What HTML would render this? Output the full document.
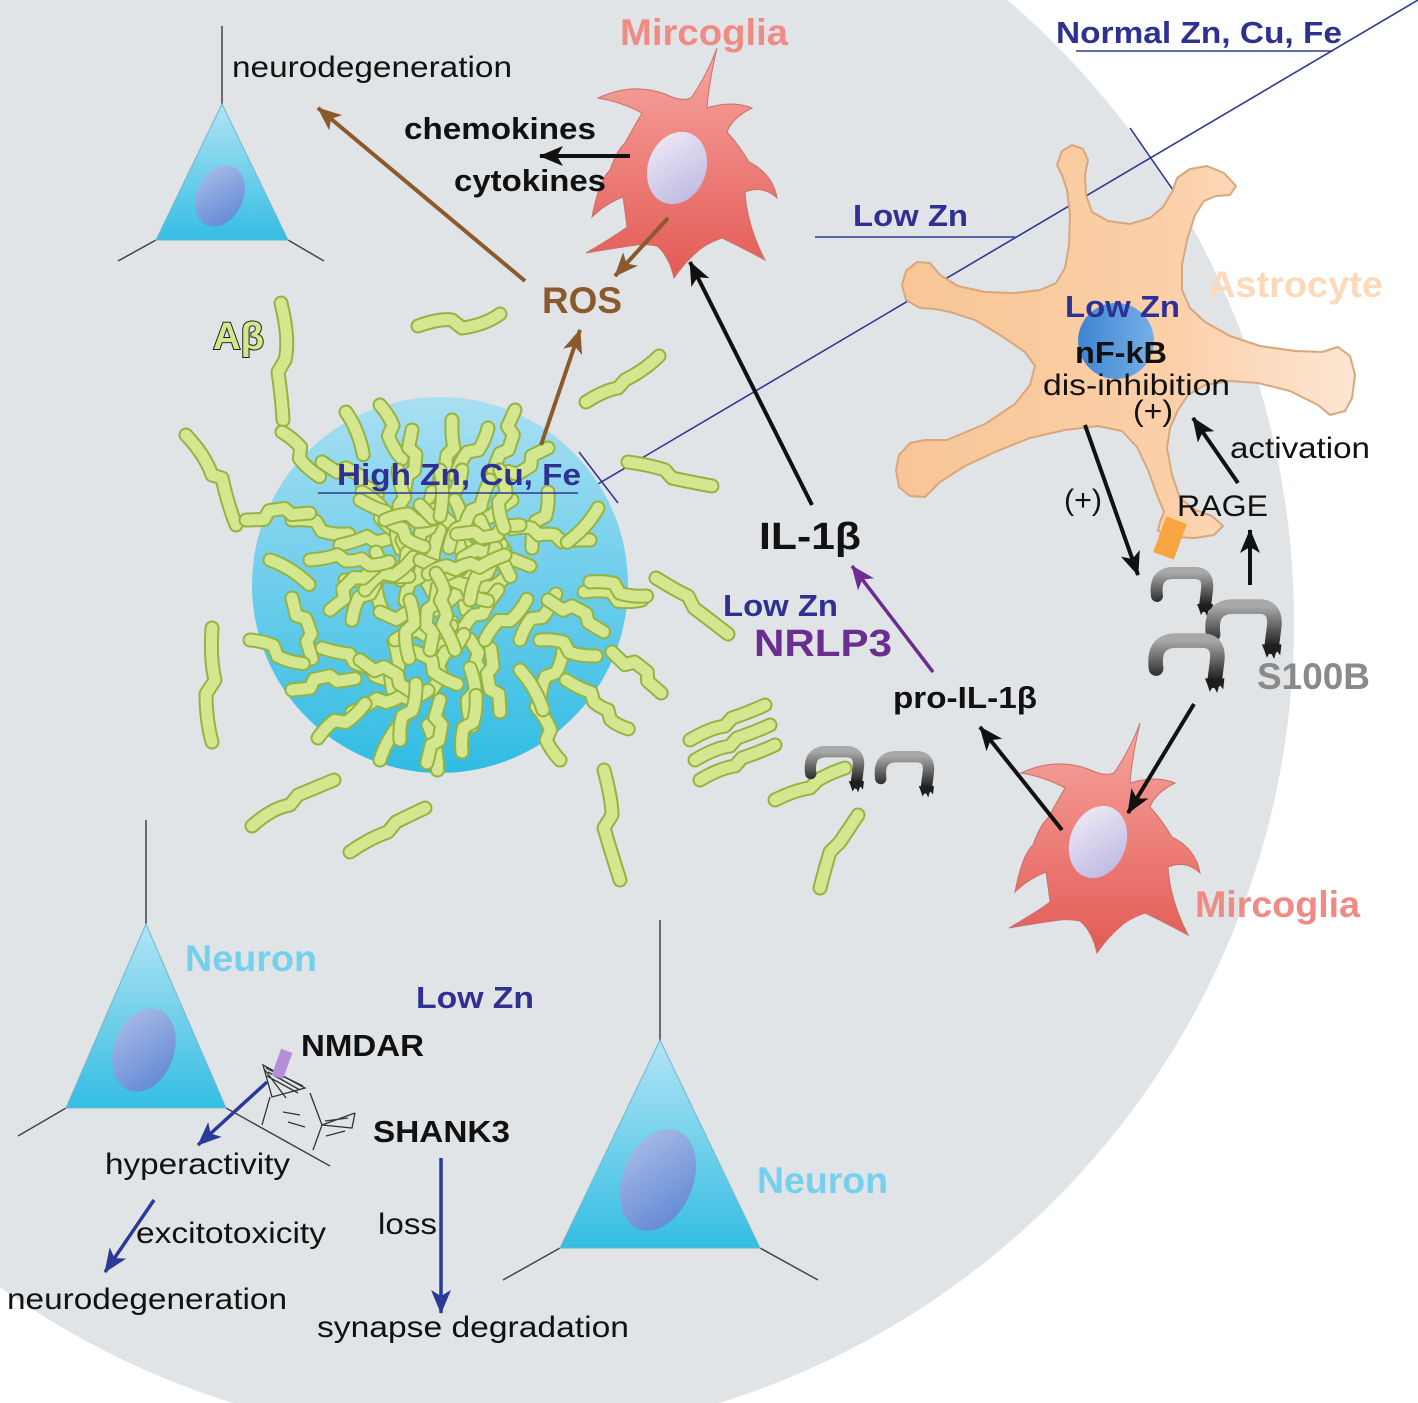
<!DOCTYPE html>
<html><head><meta charset="utf-8"><style>
html,body{margin:0;padding:0;background:#fff}
svg{display:block}
text{font-family:"Liberation Sans",Arial,sans-serif}
.r{font-weight:400;fill:#111;font-size:30px}
.b{font-weight:700;fill:#111;font-size:31px}
.bl{font-weight:700;fill:#2e3192;font-size:31px}
.big{font-weight:700;font-size:37px}
</style></head><body>
<svg width="1418" height="1403" viewBox="0 0 1418 1403" xmlns="http://www.w3.org/2000/svg">
<defs>
<linearGradient id="gTri" x1="0" y1="0" x2="0" y2="1"><stop offset="0" stop-color="#b2e4f5"/><stop offset="1" stop-color="#34bde3"/></linearGradient>
<linearGradient id="gNuc" x1="0" y1="0" x2="1" y2="1"><stop offset="0" stop-color="#aebfe9"/><stop offset="1" stop-color="#5a84d2"/></linearGradient>
<linearGradient id="gPlq" x1="0" y1="0" x2="0" y2="1"><stop offset="0" stop-color="#aadff3"/><stop offset="1" stop-color="#30bce3"/></linearGradient>
<linearGradient id="gMg" x1="0" y1="0" x2="0" y2="1"><stop offset="0" stop-color="#f7a69f"/><stop offset="1" stop-color="#e35a55"/></linearGradient>
<linearGradient id="gMn" x1="0" y1="0" x2="1" y2="1"><stop offset="0" stop-color="#f2eef7"/><stop offset="1" stop-color="#b9b3e0"/></linearGradient>
<linearGradient id="gAst" x1="0" y1="0" x2="1" y2="0"><stop offset="0" stop-color="#f8c595"/><stop offset="0.6" stop-color="#fbd0a9"/><stop offset="1" stop-color="#fde6d3"/></linearGradient>
<linearGradient id="gAn" x1="0" y1="0" x2="1" y2="0"><stop offset="0" stop-color="#3f84d2"/><stop offset="1" stop-color="#76afe6"/></linearGradient>
<linearGradient id="gS" x1="0" y1="0" x2="0" y2="1"><stop offset="0" stop-color="#a8a8a8"/><stop offset="1" stop-color="#1c1c1c"/></linearGradient>
<marker id="mK" viewBox="-26 -12 28 24" refX="0" refY="0" markerWidth="28" markerHeight="24" markerUnits="userSpaceOnUse" orient="auto"><path d="M1,0 L-23,-10 L-17,0 L-23,10 Z" fill="#111"/></marker>
<marker id="mR" viewBox="-26 -12 28 24" refX="0" refY="0" markerWidth="28" markerHeight="24" markerUnits="userSpaceOnUse" orient="auto"><path d="M1,0 L-23,-10 L-17,0 L-23,10 Z" fill="#8a5a2c"/></marker>
<marker id="mP" viewBox="-26 -12 28 24" refX="0" refY="0" markerWidth="28" markerHeight="24" markerUnits="userSpaceOnUse" orient="auto"><path d="M1,0 L-23,-10 L-17,0 L-23,10 Z" fill="#6b2d90"/></marker>
<marker id="mB" viewBox="-26 -12 28 24" refX="0" refY="0" markerWidth="28" markerHeight="24" markerUnits="userSpaceOnUse" orient="auto"><path d="M1,0 L-23,-10 L-17,0 L-23,10 Z" fill="#2b3a98"/></marker>
<g id="fa" fill="none" stroke-linecap="round" stroke-linejoin="round"><path d="M0,0 Q12,-3 24,-2 L31,7 Q44,9 58,6" stroke="#94b343" stroke-width="15"/><path d="M0,0 Q12,-3 24,-2 L31,7 Q44,9 58,6" stroke="#d4e78f" stroke-width="11"/></g>
<g id="fb" fill="none" stroke-linecap="round" stroke-linejoin="round"><path d="M0,0 L18,2 L24,-6 L40,-6 L46,1 L64,2" stroke="#94b343" stroke-width="15"/><path d="M0,0 L18,2 L24,-6 L40,-6 L46,1 L64,2" stroke="#d4e78f" stroke-width="11"/></g>
<g id="fc" fill="none" stroke-linecap="round" stroke-linejoin="round"><path d="M0,0 Q22,-5 46,0" stroke="#94b343" stroke-width="15"/><path d="M0,0 Q22,-5 46,0" stroke="#d4e78f" stroke-width="11"/></g>
<g id="fd" fill="none" stroke-linecap="round" stroke-linejoin="round"><path d="M0,0 Q16,3 28,2 L34,10 Q44,13 50,12 L56,20 Q64,23 76,22" stroke="#94b343" stroke-width="15"/><path d="M0,0 Q16,3 28,2 L34,10 Q44,13 50,12 L56,20 Q64,23 76,22" stroke="#d4e78f" stroke-width="11"/></g>
<path id="mg" d="M-79,-72 Q-45,-88 -12,-76 Q4,-68 14,-72 Q30,-95 40,-122 Q32,-88 30,-62 Q55,-70 75,-62 Q55,-52 50,-38 Q62,-25 72,-8 Q96,4 100,28 Q86,15 68,22 Q70,55 88,90 Q62,76 45,68 Q28,74 20,82 Q8,92 -3,108 Q-8,86 -20,76 Q-30,74 -40,75 Q-62,78 -91,83 Q-62,66 -50,57 Q-52,40 -54,27 Q-72,34 -85,47 Q-78,10 -67,0 Q-60,-20 -52,-27 Q-42,-45 -35,-57 Q-55,-68 -79,-72 Z" fill="url(#gMg)" stroke="#c8716b" stroke-width="1"/>
<g id="hk">
<path d="M5,30 Q2,8 20,7 L44,7 Q57,8 55,24 L53,40" fill="none" stroke="url(#gS)" stroke-width="12" stroke-linecap="round" stroke-linejoin="round"/>
<path d="M45,38 L61,38 L60,47 L57,43 L55,50 L52,44 L49,49 L47,43 Z" fill="#1e1e1e"/>
</g>
</defs>

<rect width="1418" height="1403" fill="#fff"/>
<circle cx="476" cy="622" r="818" fill="#e1e4e6"/>

<!-- diagonal and underline lines -->
<g stroke="#2e3a94" stroke-width="1.6" fill="none">
<line x1="520" y1="530" x2="1418" y2="0"/>
<line x1="1076" y1="51" x2="1333" y2="51"/>
<line x1="815" y1="237" x2="1015" y2="237"/>
<line x1="1130" y1="128" x2="1175" y2="193"/>
</g>

<!-- top-left neuron -->
<g stroke="#444" stroke-width="1.5">
<line x1="222" y1="26" x2="222" y2="104"/>
<line x1="156" y1="240" x2="118" y2="261"/>
<line x1="288" y1="240" x2="324" y2="261"/>
</g>
<polygon points="222,104 156,240 288,240" fill="url(#gTri)" stroke="#6fb6cf" stroke-width="1"/>
<ellipse cx="220" cy="196" rx="23" ry="32" transform="rotate(25 220 196)" fill="url(#gNuc)"/>

<!-- plaque -->
<circle cx="440" cy="585" r="188" fill="url(#gPlq)"/>

<!-- outside fibrils -->
<g fill="none" stroke-linecap="round" stroke-linejoin="round">
<g stroke="#94b343" stroke-width="15">
<path d="M281,303 Q290,340 285,360 L278,372 Q282,400 283,420"/>
<path d="M186,435 Q205,455 212,475 L222,478 Q228,505 236,525"/>
<path d="M418,326 Q440,318 452,320 L462,328 Q485,325 500,314"/>
<path d="M586,402 Q605,390 618,388 L625,380 Q645,370 659,356"/>
<path d="M628,462 Q650,465 665,470 L672,478 Q690,482 712,486"/>
<path d="M656,578 Q675,590 688,596 L694,608 Q710,620 728,634"/>
<path d="M604,770 Q612,800 612,815 L604,828 Q612,855 620,880"/>
<path d="M252,826 Q272,808 290,805 L298,795 Q315,788 334,780"/>
<path d="M350,852 Q370,838 388,832 L396,822 Q410,815 425,808"/>
<path d="M212,628 Q210,660 215,680 L206,694 Q206,720 212,742"/>
<path d="M690,740 Q710,728 725,726 L732,718 Q750,712 765,705"/>
<path d="M695,760 Q715,748 730,746 L737,738 Q755,732 770,725"/>
<path d="M700,780 Q720,768 735,766 L742,758 Q760,752 775,745"/>
<path d="M775,800 Q795,790 810,788 L818,780 Q832,772 845,768"/>
<path d="M820,888 Q826,865 830,852 L840,842 Q848,830 858,815"/>
</g>
<g stroke="#d4e78f" stroke-width="11">
<path d="M281,303 Q290,340 285,360 L278,372 Q282,400 283,420"/>
<path d="M186,435 Q205,455 212,475 L222,478 Q228,505 236,525"/>
<path d="M418,326 Q440,318 452,320 L462,328 Q485,325 500,314"/>
<path d="M586,402 Q605,390 618,388 L625,380 Q645,370 659,356"/>
<path d="M628,462 Q650,465 665,470 L672,478 Q690,482 712,486"/>
<path d="M656,578 Q675,590 688,596 L694,608 Q710,620 728,634"/>
<path d="M604,770 Q612,800 612,815 L604,828 Q612,855 620,880"/>
<path d="M252,826 Q272,808 290,805 L298,795 Q315,788 334,780"/>
<path d="M350,852 Q370,838 388,832 L396,822 Q410,815 425,808"/>
<path d="M212,628 Q210,660 215,680 L206,694 Q206,720 212,742"/>
<path d="M690,740 Q710,728 725,726 L732,718 Q750,712 765,705"/>
<path d="M695,760 Q715,748 730,746 L737,738 Q755,732 770,725"/>
<path d="M700,780 Q720,768 735,766 L742,758 Q760,752 775,745"/>
<path d="M775,800 Q795,790 810,788 L818,780 Q832,772 845,768"/>
<path d="M820,888 Q826,865 830,852 L840,842 Q848,830 858,815"/>
</g>
</g>

<!-- plaque fibrils -->
<use href="#fa" transform="translate(380,405) rotate(62)"/>
<use href="#fb" transform="translate(412,430) rotate(95)"/>
<use href="#fd" transform="translate(452,420) rotate(82)"/>
<use href="#fa" transform="translate(488,428) rotate(118)"/>
<use href="#fb" transform="translate(322,462) rotate(28)"/>
<use href="#fa" transform="translate(292,520) rotate(8)"/>
<use href="#fb" transform="translate(548,448) rotate(148)"/>
<use href="#fa" transform="translate(548,492) rotate(100)"/>
<use href="#fd" transform="translate(590,540) rotate(172)"/>
<use href="#fc" transform="translate(598,508) rotate(132)"/>
<use href="#fd" transform="translate(340,545) rotate(-22)"/>
<use href="#fa" transform="translate(362,492) rotate(42)"/>
<use href="#fd" transform="translate(398,470) rotate(72)"/>
<use href="#fb" transform="translate(432,492) rotate(96)"/>
<use href="#fa" transform="translate(462,470) rotate(112)"/>
<use href="#fd" transform="translate(512,500) rotate(138)"/>
<use href="#fb" transform="translate(530,566) rotate(195)"/>
<use href="#fa" transform="translate(376,552) rotate(78)"/>
<use href="#fb" transform="translate(402,540) rotate(58)"/>
<use href="#fd" transform="translate(440,530) rotate(100)"/>
<use href="#fa" transform="translate(470,552) rotate(88)"/>
<use href="#fd" transform="translate(436,610) rotate(-42)"/>
<use href="#fb" transform="translate(380,612) rotate(18)"/>
<use href="#fa" transform="translate(352,620) rotate(-68)"/>
<use href="#fd" transform="translate(322,648) rotate(8)"/>
<use href="#fb" transform="translate(292,598) rotate(70)"/>
<use href="#fc" transform="translate(270,560) rotate(32)"/>
<use href="#fb" transform="translate(452,622) rotate(58)"/>
<use href="#fd" transform="translate(498,590) rotate(118)"/>
<use href="#fa" transform="translate(520,640) rotate(-58)"/>
<use href="#fb" transform="translate(548,600) rotate(28)"/>
<use href="#fa" transform="translate(642,600) rotate(-178)"/>
<use href="#fa" transform="translate(470,668) rotate(82)"/>
<use href="#fb" transform="translate(432,690) rotate(-62)"/>
<use href="#fa" transform="translate(396,700) rotate(-98)"/>
<use href="#fd" transform="translate(352,712) rotate(-32)"/>
<use href="#fb" transform="translate(500,712) rotate(-100)"/>
<use href="#fa" transform="translate(540,700) rotate(-72)"/>
<use href="#fd" transform="translate(566,680) rotate(22)"/>
<use href="#fa" transform="translate(318,738) rotate(-42)"/>
<use href="#fc" transform="translate(428,725) rotate(78)"/>
<use href="#fa" transform="translate(462,752) rotate(-82)"/>
<use href="#fb" transform="translate(292,690) rotate(-12)"/>
<use href="#fa" transform="translate(250,640) rotate(18)"/>
<use href="#fa" transform="translate(590,582) rotate(8)"/>
<use href="#fb" transform="translate(612,652) rotate(38)"/>
<use href="#fa" transform="translate(282,432) rotate(44)"/>
<use href="#fc" transform="translate(346,412) rotate(68)"/>
<use href="#fb" transform="translate(515,410) rotate(108)"/>
<use href="#fb" transform="translate(246,520) rotate(-8)"/>
<use href="#fa" transform="translate(410,650) rotate(30)"/>
<use href="#fd" transform="translate(400,580) rotate(-80)"/>
<use href="#fb" transform="translate(480,520) rotate(60)"/>
<use href="#fa" transform="translate(560,760) rotate(-120)"/>
<use href="#fc" transform="translate(380,760) rotate(-60)"/>
<!-- extra dense core -->
<use href="#fd" transform="translate(360,500) rotate(20)"/>
<use href="#fa" transform="translate(385,520) rotate(-10)"/>
<use href="#fb" transform="translate(420,505) rotate(40)"/>
<use href="#fa" transform="translate(455,500) rotate(75)"/>
<use href="#fd" transform="translate(490,480) rotate(105)"/>
<use href="#fb" transform="translate(345,580) rotate(-5)"/>
<use href="#fa" transform="translate(365,590) rotate(-40)"/>
<use href="#fd" transform="translate(420,560) rotate(15)"/>
<use href="#fb" transform="translate(445,575) rotate(-30)"/>
<use href="#fa" transform="translate(470,600) rotate(-70)"/>
<use href="#fd" transform="translate(505,555) rotate(150)"/>
<use href="#fb" transform="translate(520,525) rotate(170)"/>
<use href="#fa" transform="translate(395,640) rotate(-20)"/>
<use href="#fb" transform="translate(430,650) rotate(-85)"/>
<use href="#fd" transform="translate(455,650) rotate(-120)"/>
<use href="#fa" transform="translate(485,640) rotate(-50)"/>
<use href="#fb" transform="translate(360,660) rotate(30)"/>
<use href="#fa" transform="translate(410,600) rotate(85)"/>
<use href="#fc" transform="translate(440,470) rotate(90)"/>
<use href="#fa" transform="translate(500,470) rotate(80)"/>
<use href="#fb" transform="translate(330,610) rotate(-45)"/>
<use href="#fd" transform="translate(310,560) rotate(-15)"/>
<use href="#fa" transform="translate(540,640) rotate(10)"/>
<use href="#fc" transform="translate(520,670) rotate(60)"/>
<use href="#fa" transform="translate(400,740) rotate(-80)"/>
<use href="#fb" transform="translate(440,700) rotate(100)"/>

<!-- High Zn underline & tick -->
<g stroke="#2e3a94" stroke-width="1.6">
<line x1="318" y1="493" x2="578" y2="493"/>
<line x1="579" y1="452" x2="618" y2="503"/>
</g>

<!-- astrocyte -->
<polygon points="1057,165 1062,151 1072,145 1083,149 1088,160 1085,175 1086,195 1092,212 1108,221 1130,224 1150,218 1163,207 1172,192 1177,178 1190,169 1207,166 1224,173 1236,186 1230,195 1216,196 1204,201 1195,215 1187,240 1182,265 1182,290 1190,308 1205,322 1230,336 1260,346 1295,351 1322,352 1338,347 1350,356 1355,375 1352,398 1345,411 1330,415 1318,405 1290,391 1258,383 1230,381 1205,385 1188,395 1178,410 1170,428 1167,448 1172,475 1180,498 1195,510 1212,516 1223,526 1214,535 1195,538 1172,537 1158,531 1160,522 1164,512 1157,495 1148,470 1137,447 1122,431 1098,426 1065,430 1030,438 995,452 965,466 940,482 925,497 910,496 899,487 896,470 899,455 910,443 925,440 947,440 985,424 1015,404 1030,385 1035,366 1025,352 1000,335 975,320 950,312 935,309 920,308 906,300 902,285 906,271 917,262 930,263 940,275 958,286 985,292 1015,293 1040,290 1056,283 1065,268 1069,245 1070,215 1067,190 1062,175" fill="url(#gAst)" stroke="#d8a77c" stroke-width="2" stroke-linejoin="round"/>
<circle cx="1116" cy="341" r="38" fill="url(#gAn)"/>
<rect x="-11" y="-19" width="22" height="38" transform="translate(1170,538) rotate(20)" fill="#f7a540"/>

<!-- S100B -->
<use href="#hk" transform="translate(1152,566)"/>
<use href="#hk" transform="translate(1207,598) scale(1.22)"/>
<use href="#hk" transform="translate(1150,632) scale(1.22)"/>
<use href="#hk" transform="translate(806,745) scale(0.95)"/>
<use href="#hk" transform="translate(876,750) scale(0.95)"/>

<!-- microglia -->
<use href="#mg" transform="translate(677,170)"/>
<ellipse cx="677" cy="168" rx="29" ry="37" transform="rotate(20 677 168)" fill="url(#gMn)"/>
<use href="#mg" transform="translate(1100,845)"/>
<ellipse cx="1098" cy="842" rx="28" ry="37" transform="rotate(20 1098 842)" fill="url(#gMn)"/>

<!-- bottom-left neuron -->
<g stroke="#444" stroke-width="1.5">
<line x1="146" y1="820" x2="146" y2="924"/>
<line x1="66" y1="1108" x2="18" y2="1136"/>
<line x1="226" y1="1108" x2="330" y2="1166"/>
</g>
<polygon points="146,924 66,1108 226,1108" fill="url(#gTri)" stroke="#6fb6cf" stroke-width="1"/>
<ellipse cx="144" cy="1050" rx="30" ry="43" transform="rotate(20 144 1050)" fill="url(#gNuc)"/>

<!-- synapse sketch -->
<g stroke="#333" stroke-width="1.3" fill="none">
<path d="M263,1065 L272,1097 L305,1088 Z"/>
<path d="M266,1068 L303,1086 M268,1072 L300,1090 M267,1076 L298,1093 M265,1070 L286,1098"/>
<path d="M270,1097 L262,1125"/>
<path d="M283,1112 L300,1115 M288,1122 L305,1127"/>
<path d="M310,1093 L322,1125 L313,1150"/>
<path d="M322,1125 L355,1113 M322,1125 L352,1128 L355,1113 M325,1121 L348,1118"/>
<path d="M326,1136 L345,1131"/>
</g>
<rect x="-6" y="-14" width="12" height="28" transform="translate(282,1064) rotate(20)" fill="#b48fd6"/>

<!-- bottom-center neuron -->
<g stroke="#444" stroke-width="1.5">
<line x1="660" y1="920" x2="660" y2="1040"/>
<line x1="560" y1="1248" x2="503" y2="1280"/>
<line x1="760" y1="1248" x2="818" y2="1280"/>
</g>
<polygon points="660,1040 560,1248 760,1248" fill="url(#gTri)" stroke="#6fb6cf" stroke-width="1"/>
<ellipse cx="658" cy="1180" rx="35" ry="53" transform="rotate(22 658 1180)" fill="url(#gNuc)"/>

<!-- arrows -->
<g fill="none" stroke-width="4">
<line x1="630" y1="156" x2="540" y2="156" stroke="#111" marker-end="url(#mK)"/>
<line x1="668" y1="218" x2="615" y2="276" stroke="#8a5a2c" marker-end="url(#mR)"/>
<line x1="525" y1="281" x2="318" y2="108" stroke="#8a5a2c" marker-end="url(#mR)"/>
<line x1="541" y1="445" x2="580" y2="330" stroke="#8a5a2c" marker-end="url(#mR)"/>
<line x1="812" y1="505" x2="690" y2="262" stroke="#111" marker-end="url(#mK)"/>
<line x1="933" y1="672" x2="852" y2="566" stroke="#6b2d90" stroke-width="3.5" marker-end="url(#mP)"/>
<line x1="1062" y1="830" x2="980" y2="727" stroke="#111" marker-end="url(#mK)"/>
<line x1="1194" y1="704" x2="1128" y2="813" stroke="#111" marker-end="url(#mK)"/>
<line x1="1085" y1="425" x2="1138" y2="575" stroke="#111" marker-end="url(#mK)"/>
<line x1="1238" y1="483" x2="1193" y2="418" stroke="#111" marker-end="url(#mK)"/>
<line x1="1250" y1="585" x2="1250" y2="530" stroke="#111" marker-end="url(#mK)"/>
<line x1="267" y1="1082" x2="198" y2="1145" stroke="#2b3a98" stroke-width="3.5" marker-end="url(#mB)"/>
<line x1="154" y1="1200" x2="105" y2="1272" stroke="#2b3a98" stroke-width="3.5" marker-end="url(#mB)"/>
<line x1="441" y1="1158" x2="441" y2="1313" stroke="#2b3a98" stroke-width="3.5" marker-end="url(#mB)"/>
</g>

<!-- text -->
<text class="r" x="232" y="77" textLength="280" lengthAdjust="spacingAndGlyphs">neurodegeneration</text>
<text class="big" x="620" y="45" fill="#f08a84" textLength="168" lengthAdjust="spacingAndGlyphs">Mircoglia</text>
<text class="b" x="404" y="139" textLength="192" lengthAdjust="spacingAndGlyphs">chemokines</text>
<text class="b" x="454" y="191" textLength="152" lengthAdjust="spacingAndGlyphs">cytokines</text>
<text class="big" x="542" y="313" fill="#8a5a2c" textLength="80" lengthAdjust="spacingAndGlyphs">ROS</text>
<text x="213" y="349" font-size="38" font-weight="700" fill="#d3e88a" stroke="#222" stroke-width="2" paint-order="stroke" textLength="51" lengthAdjust="spacingAndGlyphs">Aβ</text>
<text class="bl" x="337" y="485" textLength="244" lengthAdjust="spacingAndGlyphs">High Zn, Cu, Fe</text>
<text class="bl" x="1056" y="43" textLength="286" lengthAdjust="spacingAndGlyphs">Normal Zn, Cu, Fe</text>
<text class="bl" x="853" y="226" textLength="115" lengthAdjust="spacingAndGlyphs">Low Zn</text>
<text class="big" x="1208" y="297" fill="#fcd9ba" textLength="175" lengthAdjust="spacingAndGlyphs">Astrocyte</text>
<text class="bl" x="1065" y="317" textLength="115" lengthAdjust="spacingAndGlyphs">Low Zn</text>
<text class="b" x="1075" y="363" textLength="92" lengthAdjust="spacingAndGlyphs">nF-kB</text>
<text class="r" x="1043" y="395" textLength="187" lengthAdjust="spacingAndGlyphs">dis-inhibition</text>
<text class="r" x="1133" y="421" textLength="40" lengthAdjust="spacingAndGlyphs">(+)</text>
<text class="r" x="1230" y="458" textLength="140" lengthAdjust="spacingAndGlyphs">activation</text>
<text class="r" x="1177" y="516" textLength="91" lengthAdjust="spacingAndGlyphs">RAGE</text>
<text class="r" x="1064" y="510" textLength="38" lengthAdjust="spacingAndGlyphs">(+)</text>
<text class="big" x="1257" y="689" fill="#8a8a8a" textLength="113" lengthAdjust="spacingAndGlyphs">S100B</text>
<text class="big" x="1195" y="917" fill="#f08a84" textLength="165" lengthAdjust="spacingAndGlyphs">Mircoglia</text>
<text x="759" y="549" font-size="38" font-weight="700" fill="#111" textLength="102" lengthAdjust="spacingAndGlyphs">IL-1β</text>
<text class="bl" x="723" y="616" textLength="115" lengthAdjust="spacingAndGlyphs">Low Zn</text>
<text x="754" y="656" font-size="38" font-weight="700" fill="#6b2d90" textLength="138" lengthAdjust="spacingAndGlyphs">NRLP3</text>
<text class="b" x="893" y="708" textLength="144" lengthAdjust="spacingAndGlyphs">pro-IL-1β</text>
<text class="big" x="185" y="971" fill="#74d0ec" textLength="132" lengthAdjust="spacingAndGlyphs">Neuron</text>
<text class="bl" x="416" y="1008" textLength="118" lengthAdjust="spacingAndGlyphs">Low Zn</text>
<text class="b" x="301" y="1056" textLength="123" lengthAdjust="spacingAndGlyphs">NMDAR</text>
<text class="b" x="373" y="1142" textLength="137" lengthAdjust="spacingAndGlyphs">SHANK3</text>
<text class="r" x="105" y="1174" textLength="185" lengthAdjust="spacingAndGlyphs">hyperactivity</text>
<text class="r" x="136" y="1243" textLength="190" lengthAdjust="spacingAndGlyphs">excitotoxicity</text>
<text class="r" x="378" y="1234" textLength="59" lengthAdjust="spacingAndGlyphs">loss</text>
<text class="r" x="7" y="1309" textLength="280" lengthAdjust="spacingAndGlyphs">neurodegeneration</text>
<text class="r" x="317" y="1337" textLength="312" lengthAdjust="spacingAndGlyphs">synapse degradation</text>
<text class="big" x="757" y="1193" fill="#74d0ec" textLength="131" lengthAdjust="spacingAndGlyphs">Neuron</text>
</svg>
</body></html>
